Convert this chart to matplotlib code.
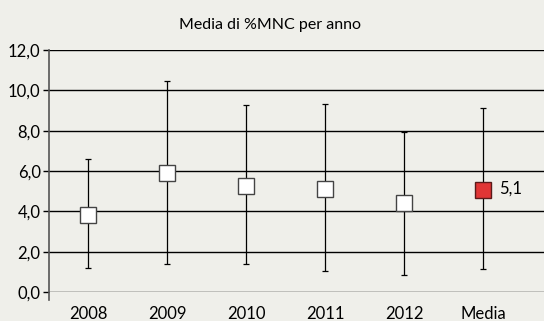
import matplotlib.pyplot as plt

categories = ['2008', '2009', '2010', '2011', '2012', 'Media']
means = [3.82, 5.92, 5.27, 5.09, 4.43, 5.06]
upper = [6.6, 10.46, 9.29, 9.32, 7.93, 9.11]
lower = [1.17, 1.40, 1.40, 1.04, 0.84, 1.13]
yticks = [0, 2, 4, 6, 8, 10, 12]
mean_label = '5,1'

plt.rcParams['font.family'] = ['Lato', 'DejaVu Sans']
bg = '#efefea'

fig = plt.figure(figsize=(5.44, 3.21), dpi=100, facecolor=bg)
ax = fig.add_axes([49 / 544, 1 - 292 / 321, 495 / 544, 242 / 321])
ax.set_facecolor(bg)

x = list(range(len(categories)))
err_lo = [m - l for m, l in zip(means, lower)]
err_hi = [u - m for m, u in zip(means, upper)]
ax.errorbar(x, means, yerr=[err_lo, err_hi], fmt='none', ecolor='black',
            elinewidth=0.9, capsize=2, capthick=0.9, zorder=3)

for i, m in enumerate(means):
    if categories[i] == 'Media':
        ax.plot(i, m, 's', ms=11.5, mfc='#e03535', mec='#5a1a1a', mew=1.0, zorder=4)
        ax.text(i + 0.2, m + 0.05, mean_label, fontsize=12, va='center', ha='left')
    else:
        ax.plot(i, m, 's', ms=11.5, mfc='white', mec='#444444', mew=1.0, zorder=4)

ax.set_xlim(-0.5, 5.77)
ax.set_ylim(0, 12)
ax.set_yticks(yticks)
ax.set_yticklabels([f'{v:.1f}'.replace('.', ',') for v in yticks], fontsize=12)
ax.set_xticks(x)
ax.set_xticklabels(categories, fontsize=12)
ax.tick_params(axis='x', length=0, pad=10)
ax.tick_params(axis='y', length=4, width=1, color='black', pad=2)
for v in yticks:
    ax.axhline(v, color='black', lw=1.0, zorder=1)

for s in ['top', 'right', 'bottom']:
    ax.spines[s].set_visible(False)
ax.spines['left'].set_color('#555555')
ax.spines['left'].set_linewidth(1.2)
ax.spines['left'].set_bounds(-0.4, 12)
ax.spines['left'].set_clip_on(False)

fig.text(270 / 544, 1 - 25 / 321, 'Media di %MNC per anno',
         ha='center', va='center', fontsize=11.5)

fig.savefig('out.png', dpi=100, facecolor=bg)
